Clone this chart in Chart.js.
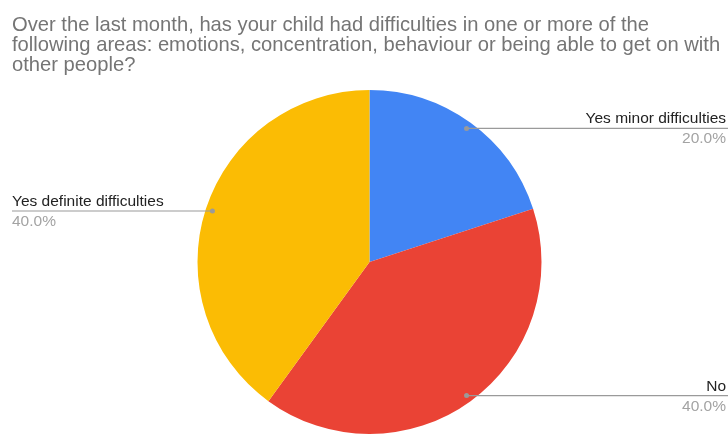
<!DOCTYPE html>
<html>
<head>
<meta charset="utf-8">
<script src="https://cdn.jsdelivr.net/npm/chart.js@4"></script>
<style>
    html, body { margin: 0; padding: 0; background: #ffffff; }
    #wrap { width: 728px; height: 434px; position: relative; }
</style>
</head>
<body>
<div id="wrap"><canvas id="pieChart" width="728" height="434"></canvas></div>
<script>
const titleLines = [
    'Over the last month, has your child had difficulties in one or more of the',
    'following areas: emotions, concentration, behaviour or being able to get on with',
    'other people?'
];
const categories = ['Yes minor difficulties', 'No', 'Yes definite difficulties'];
const shares = [20, 40, 40];
const colors = ['#4285f4', '#ea4335', '#fbbc04'];

const FONT = 'Arial, "Liberation Sans", sans-serif';

// --- title, top-left, grey ---
const titlePlugin = {
    id: 'sheetTitle',
    afterDraw(chart) {
        const ctx = chart.ctx;
        ctx.save();
        ctx.font = `20.2px ${FONT}`;
        ctx.fillStyle = '#757575';
        ctx.textAlign = 'left';
        ctx.textBaseline = 'alphabetic';
        titleLines.forEach((t, i) => ctx.fillText(t, 12, 30.5 + i * 20));
        ctx.restore();
    }
};

// --- leader lines with name + percentage ---
const calloutPlugin = {
    id: 'callouts',
    afterDatasetsDraw(chart) {
        const ctx = chart.ctx;
        const meta = chart.getDatasetMeta(0);
        const total = shares.reduce((a, b) => a + b, 0);
        const W = chart.width;
        ctx.save();
        meta.data.forEach((arc, i) => {
            const { x, y, startAngle, endAngle, outerRadius } = arc.getProps(['x', 'y', 'startAngle', 'endAngle', 'outerRadius'], true);
            const mid = (startAngle + endAngle) / 2;
            const r = outerRadius * 0.96;
            const px = x + Math.cos(mid) * r;
            const py = y + Math.sin(mid) * r;
            const right = Math.cos(mid) >= 0;

            ctx.strokeStyle = '#9a9a9a';
            ctx.lineWidth = 1.2;
            ctx.beginPath();
            ctx.moveTo(px, py);
            ctx.lineTo(right ? W : 12, py);
            ctx.stroke();

            ctx.fillStyle = '#9a9a9a';
            ctx.beginPath();
            ctx.arc(px, py, 2.5, 0, Math.PI * 2);
            ctx.fill();

            const tx = right ? W - 2 : 12;
            ctx.textAlign = right ? 'right' : 'left';
            ctx.textBaseline = 'alphabetic';
            ctx.font = `15.5px ${FONT}`;
            ctx.fillStyle = '#222222';
            ctx.fillText(categories[i], tx, py - 5);
            ctx.fillStyle = '#a3a3a3';
            ctx.fillText((shares[i] / total * 100).toFixed(1) + '%', tx, py + 15);
        });
        ctx.restore();
    }
};

new Chart(document.getElementById('pieChart'), {
    type: 'pie',
    data: {
        labels: categories,
        datasets: [{
            data: shares,
            backgroundColor: colors,
            borderWidth: 0
        }]
    },
    options: {
        responsive: false,
        animation: false,
        layout: { padding: { top: 90, left: 197, right: 186, bottom: -1 } },
        plugins: {
            legend: { display: false },
            tooltip: { enabled: false }
        }
    },
    plugins: [titlePlugin, calloutPlugin]
});
</script>
</body>
</html>
